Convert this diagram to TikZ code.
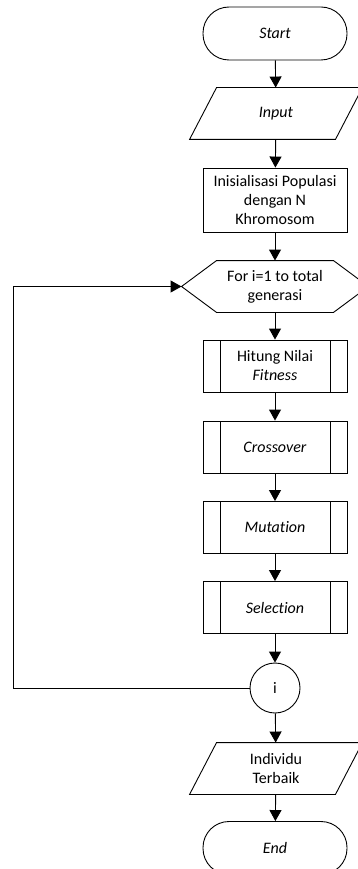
\documentclass[tikz,border=0pt]{standalone}
\usepackage{fontspec}
\setmainfont{Carlito}[Ligatures=NoCommon]
\usepackage{tikz}
\usetikzlibrary{arrows.meta, positioning, calc}

\tikzset{
  base/.style={draw=none, align=center, font=\fontsize{16}{19}\selectfont, inner sep=0pt},
  terminal/.style={base, draw, rounded corners=26pt, minimum width=144pt, minimum height=53pt},
  process/.style={base, draw, minimum width=144pt, minimum height=64pt},
  subproc/.style={base, draw, minimum width=144pt, minimum height=52pt,
    path picture={
      \draw ([xshift=17pt]path picture bounding box.north west) -- ([xshift=17pt]path picture bounding box.south west);
      \draw ([xshift=-17pt]path picture bounding box.north east) -- ([xshift=-17pt]path picture bounding box.south east);
    }},
  io/.style={base, minimum width=145pt, minimum height=51pt},
  prep/.style={base, minimum width=186pt, minimum height=51pt},
  connector/.style={base, draw, circle, minimum size=50pt},
  flow/.style={-{Triangle[width=12pt,length=11pt]}}
}

\begin{document}
\begin{tikzpicture}[x=1pt, y=-1pt, line width=0.9pt]
  \clip (0,0) rectangle (358,869);

  \node[terminal]   (start) at (275, 33.5) {\textit{Start}};
  \node[io]         (input) at (276, 113.5) {\textit{Input}};
  \node[process]    (init)  at (275, 200) {Inisialisasi Populasi\\dengan N\\Khromosom};
  \node[prep]       (loop)  at (275, 286.5) {For i=1 to total\\generasi};
  \node[subproc]    (fit)   at (275, 366) {Hitung Nilai\\\textit{Fitness}};
  \node[subproc]    (cross) at (275, 447) {\textit{Crossover}};
  \node[subproc]    (mut)   at (275, 527.5) {\textit{Mutation}};
  \node[subproc]    (sel)   at (275, 607.5) {\textit{Selection}};
  \node[connector]  (circ)  at (275, 688) {i};
  \node[io]         (best)  at (276, 768.5) {Individu\\Terbaik};
  \node[terminal]   (end)   at (275, 848) {\textit{End}};

  % parallelograms
  \draw ([xshift=13.5pt]input.north west) -- ([xshift=13.5pt]input.north east)
     -- ([xshift=-13.5pt]input.south east) -- ([xshift=-13.5pt]input.south west) -- cycle;
  \draw ([xshift=13.5pt]best.north west) -- ([xshift=13.5pt]best.north east)
     -- ([xshift=-13.5pt]best.south east) -- ([xshift=-13.5pt]best.south west) -- cycle;

  % hexagon
  \draw (loop.west) -- ([xshift=35pt]loop.north west) -- ([xshift=-35pt]loop.north east)
     -- (loop.east) -- ([xshift=-35pt]loop.south east) -- ([xshift=35pt]loop.south west) -- cycle;

  \draw[flow] (start) -- (input);
  \draw[flow] (input) -- (init);
  \draw[flow] (init) -- (loop);
  \draw[flow] (loop) -- (fit);
  \draw[flow] (fit) -- (cross);
  \draw[flow] (cross) -- (mut);
  \draw[flow] (mut) -- (sel);
  \draw[flow] (sel) -- (circ);
  \draw[flow] (circ) -- (best);
  \draw[flow] (best) -- (end);

  \coordinate (back) at (13, 0);
  \draw[flow] (circ.west) -- (circ.west -| back) |- (loop.west);
\end{tikzpicture}
\end{document}
